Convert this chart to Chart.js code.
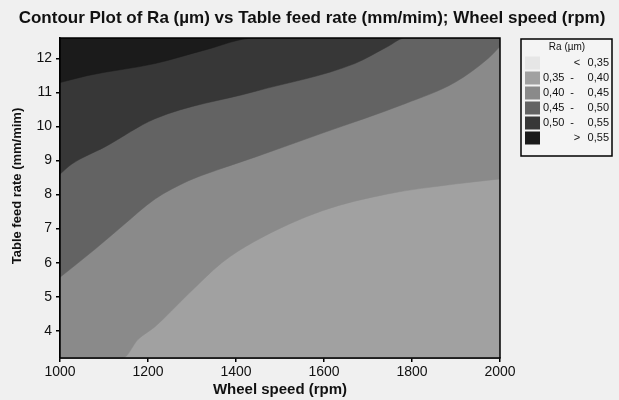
<!DOCTYPE html>
<html>
<head>
<meta charset="utf-8">
<script src="https://cdn.jsdelivr.net/npm/chart.js@4/dist/chart.umd.min.js"></script>
<style>
  html, body { margin: 0; padding: 0; background: #f0f0f0; }
  #wrap { width: 619px; height: 400px; position: relative; }
</style>
</head>
<body>
<div id="wrap"><canvas id="c" width="619" height="400"></canvas></div>
<script>
// ---- Data ----
const chartTitle = 'Contour Plot of Ra (µm) vs Table feed rate (mm/mim); Wheel speed (rpm)';
const xTitle = 'Wheel speed (rpm)';
const yTitle = 'Table feed rate (mm/mim)';
const legendTitle = 'Ra (µm)';
const xTicks = [1000, 1200, 1400, 1600, 1800, 2000];
const yTicks = [4, 5, 6, 7, 8, 9, 10, 11, 12];
const xRange = [1000, 2000];
const yRange = [3.2, 12.6];

// contour levels (Ra, µm)
const levels = [0.35, 0.40, 0.45, 0.50, 0.55];
const levelColors = ['#e6e6e6', '#a1a1a1', '#8a8a8a', '#636363', '#373737', '#1b1b1b'];

// contour boundaries: wheel speed (rpm) and feed rate where Ra crosses each level
const c040x = [1000, 1143, 1177, 1216, 1291, 1368, 1443, 1595, 1745, 1898, 2000];
const c040y = [3.2, 3.2, 3.74, 4.12, 5.07, 6.0, 6.63, 7.52, 8.02, 8.31, 8.46];

const c045x = [1000, 1080, 1141, 1216, 1291, 1330, 1443, 1595, 1784, 1898, 1973, 2000];
const c045y = [5.57, 6.4, 7.07, 7.87, 8.4, 8.6, 9.1, 9.8, 10.67, 11.3, 12.0, 12.35];

const c050x = [1000, 1027, 1102, 1216, 1443, 1670, 1745, 1784, 2000];
const c050y = [8.6, 8.9, 9.4, 10.23, 11.03, 11.85, 12.35, 12.6, 12.6];

const c055x = [1000, 1064, 1216, 1330, 1443, 2000];
const c055y = [11.29, 11.5, 11.85, 12.25, 12.6, 12.6];

// ---- Build chart ----
const FONT = '"Liberation Sans", Arial, sans-serif';

function pts(xs, ys) { return xs.map((x, i) => ({ x: x, y: ys[i] })); }
function region(label, xs, ys, color) {
  return {
    label: label,
    data: pts(xs, ys),
    backgroundColor: color,
    borderColor: color,
    borderWidth: 0.5,
    pointRadius: 0,
    fill: 'end',
    cubicInterpolationMode: 'monotone'
  };
}

const fmt = v => v.toFixed(2).replace('.', ',');

const plotBackground = {
  id: 'plotBackground',
  beforeDatasetsDraw(chart) {
    const { ctx, chartArea: a } = chart;
    ctx.save();
    ctx.fillStyle = levelColors[1];
    ctx.fillRect(a.left, a.top, a.right - a.left, a.bottom - a.top);
    ctx.restore();
  }
};

const frame = {
  id: 'frame',
  afterDatasetsDraw(chart) {
    const { ctx, chartArea: a } = chart;
    ctx.save();
    ctx.strokeStyle = '#000';
    ctx.lineWidth = 1.5;
    ctx.strokeRect(a.left, a.top, a.right - a.left, a.bottom - a.top);
    ctx.restore();
  }
};

const titles = {
  id: 'titles',
  afterDraw(chart) {
    const { ctx } = chart;
    ctx.save();
    ctx.fillStyle = '#111';
    ctx.textAlign = 'center';
    ctx.textBaseline = 'middle';
    ctx.font = 'bold 17px ' + FONT;
    ctx.fillText(chartTitle, 312, 18);
    ctx.translate(17, 186);
    ctx.rotate(-Math.PI / 2);
    ctx.font = 'bold 13px ' + FONT;
    ctx.fillText(yTitle, 0, 0);
    ctx.restore();
  }
};

const contourLegend = {
  id: 'contourLegend',
  afterDraw(chart) {
    const { ctx } = chart;
    const bx = 521, by = 39, bw = 91, bh = 117;
    ctx.save();
    ctx.fillStyle = '#f4f4f4';
    ctx.fillRect(bx, by, bw, bh);
    ctx.strokeStyle = '#000';
    ctx.lineWidth = 1.5;
    ctx.strokeRect(bx, by, bw, bh);
    ctx.fillStyle = '#111';
    ctx.font = '10px ' + FONT;
    ctx.textAlign = 'center';
    ctx.textBaseline = 'middle';
    ctx.fillText(legendTitle, 567, 47);
    ctx.font = '11px ' + FONT;
    const n = levelColors.length;
    for (let i = 0; i < n; i++) {
      const cy = 63 + i * 15;
      ctx.fillStyle = levelColors[i];
      ctx.fillRect(525, cy - 6.5, 15, 13);
      ctx.fillStyle = '#111';
      ctx.textBaseline = 'middle';
      if (i === 0) {
        ctx.textAlign = 'center'; ctx.fillText('<', 577, cy);
        ctx.textAlign = 'right'; ctx.fillText(fmt(levels[0]), 609, cy);
      } else if (i === n - 1) {
        ctx.textAlign = 'center'; ctx.fillText('>', 577, cy);
        ctx.textAlign = 'right'; ctx.fillText(fmt(levels[n - 2]), 609, cy);
      } else {
        ctx.textAlign = 'left'; ctx.fillText(fmt(levels[i - 1]), 543, cy);
        ctx.textAlign = 'center'; ctx.fillText('-', 572, cy);
        ctx.textAlign = 'right'; ctx.fillText(fmt(levels[i]), 609, cy);
      }
    }
    ctx.restore();
  }
};

new Chart(document.getElementById('c'), {
  type: 'line',
  data: {
    datasets: [
      region('> ' + fmt(levels[4]), c055x, c055y, levelColors[5]),
      region(fmt(levels[3]) + ' - ' + fmt(levels[4]), c050x, c050y, levelColors[4]),
      region(fmt(levels[2]) + ' - ' + fmt(levels[3]), c045x, c045y, levelColors[3]),
      region(fmt(levels[1]) + ' - ' + fmt(levels[2]), c040x, c040y, levelColors[2])
    ]
  },
  options: {
    responsive: false,
    animation: false,
    devicePixelRatio: 1,
    layout: { padding: { left: 0, right: 119, top: 38, bottom: 0 } },
    plugins: {
      legend: { display: false },
      tooltip: { enabled: false },
      title: { display: false }
    },
    scales: {
      x: {
        type: 'linear',
        min: xRange[0], max: xRange[1],
        afterFit(s) { s.height = 42; },
        afterBuildTicks(s) { s.ticks = xTicks.map(v => ({ value: v })); },
        ticks: { color: '#111', font: { family: FONT, size: 14 }, padding: 2, maxRotation: 0, callback: v => String(v) },
        grid: { drawOnChartArea: false, drawTicks: true, tickLength: 4, color: '#000', lineWidth: 1.5 },
        border: { display: true, color: '#000', width: 1.5 },
        title: { display: true, text: xTitle, color: '#111', font: { family: FONT, size: 15, weight: 'bold' }, padding: { top: 0, bottom: 1 } }
      },
      y: {
        type: 'linear',
        min: yRange[0], max: yRange[1],
        afterFit(s) { s.width = 60; },
        afterBuildTicks(s) { s.ticks = yTicks.map(v => ({ value: v })); },
        ticks: { color: '#111', font: { family: FONT, size: 14 }, padding: 4, callback: v => String(v) },
        grid: { drawOnChartArea: false, drawTicks: true, tickLength: 4, color: '#000', lineWidth: 1.5 },
        border: { display: true, color: '#000', width: 1.5 },
        title: { display: false }
      }
    }
  },
  plugins: [plotBackground, frame, titles, contourLegend]
});
</script>
</body>
</html>
